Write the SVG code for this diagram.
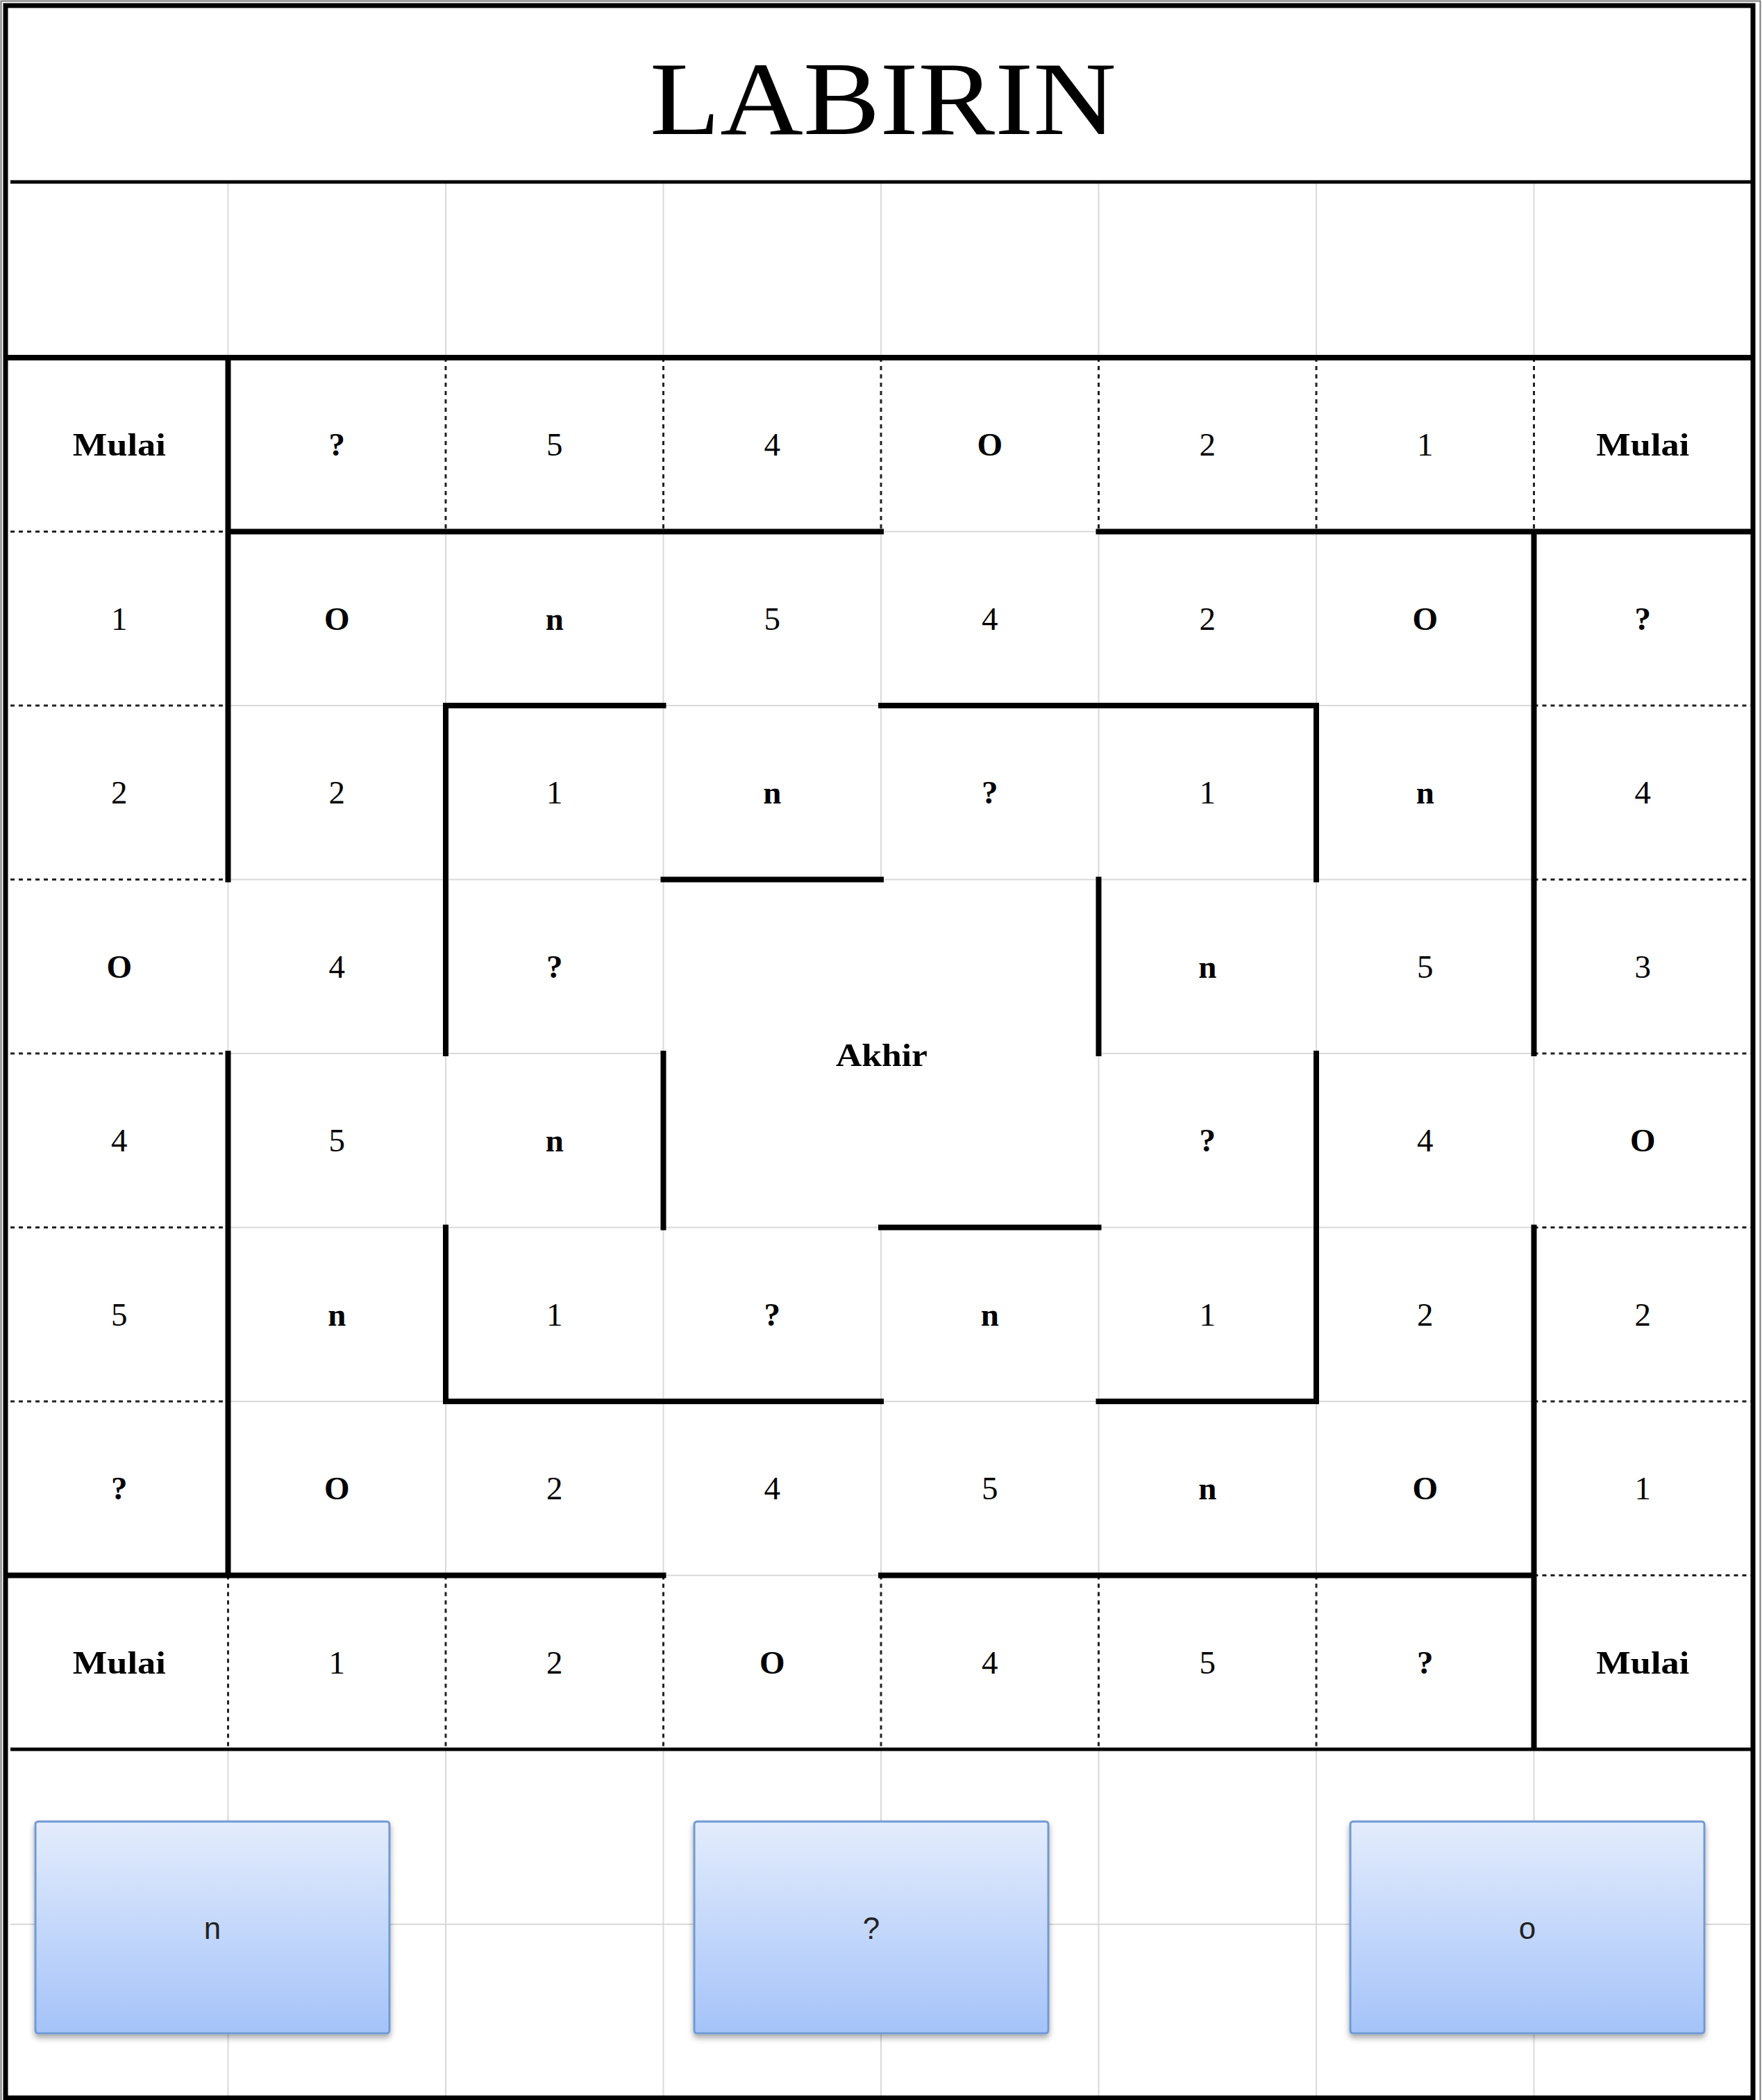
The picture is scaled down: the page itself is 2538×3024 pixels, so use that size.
<svg xmlns="http://www.w3.org/2000/svg" width="2538" height="3024" viewBox="0 0 2538 3024">
<defs>
<style>
.t{font-family:"Liberation Serif","Times New Roman",serif;font-size:47px;text-anchor:middle;fill:#000}
.b{font-weight:bold}
.grid{fill:none;stroke:#d9d9d9;stroke-width:2}
.under{fill:none;stroke:#fff;stroke-width:4}
.dot{fill:none;stroke:#222;stroke-width:3;stroke-dasharray:6 6}
.wall{fill:none;stroke:#000;stroke-width:8;stroke-linecap:square}
.rule{fill:none;stroke:#000;stroke-width:5}
.btn{fill:url(#bg);stroke:#7199d3;stroke-width:3;filter:url(#sh)}
.bl{font-family:"Liberation Sans",Arial,sans-serif;font-size:44px;text-anchor:middle;fill:#222}
</style>
<linearGradient id="bg" x1="0" y1="0" x2="0" y2="1">
<stop offset="0" stop-color="#e3ecfc"/>
<stop offset="1" stop-color="#a5c3f9"/>
</linearGradient>
<filter id="sh" x="-10%" y="-10%" width="120%" height="130%">
<feDropShadow dx="0" dy="5" stdDeviation="4" flood-color="#000" flood-opacity="0.35"/>
</filter>
</defs>
<rect x="0" y="0" width="2538" height="3024" fill="#fff"/>

<g id="gridlines">
<path class="grid" d="M328.5 262V515M642 262V515M955.5 262V515M1269 262V515M1582.5 262V515M1896 262V515M2209.5 262V515"/>
<path class="grid" d="M328.5 515V2519M642 515V2519M955.5 515V2519M1582.5 515V2519M1896 515V2519M2209.5 515V2519M1269 515V1266.5M1269 1767.5V2519"/>
<path class="grid" d="M15 765.5H2523M15 1016H2523M15 1266.5H2523M15 2018H2523M15 2268.5H2523M15 1767.5H2523M15 1517H955.5M1582.5 1517H2523"/>
<path class="grid" d="M328.5 2519V3018M642 2519V3018M955.5 2519V3018M1269 2519V3018M1582.5 2519V3018M1896 2519V3018M2209.5 2519V3018M15 2771H2523"/>
</g>

<g id="connectors">
<path class="under" d="M15 765.5H328.5M15 1016H328.5M15 1266.5H328.5M15 1517H328.5M15 1767.5H328.5M15 2018H328.5M2209.5 1016H2523M2209.5 1266.5H2523M2209.5 1517H2523M2209.5 1767.5H2523M2209.5 2018H2523M2209.5 2268.5H2523M642 515V765.5M955.5 515V765.5M1269 515V765.5M1582.5 515V765.5M1896 515V765.5M2209.5 515V765.5M328.5 2268.5V2519M642 2268.5V2519M955.5 2268.5V2519M1269 2268.5V2519M1582.5 2268.5V2519M1896 2268.5V2519"/>
<path class="dot" d="M15 765.5H328.5M15 1016H328.5M15 1266.5H328.5M15 1517H328.5M15 1767.5H328.5M15 2018H328.5M2209.5 1016H2523M2209.5 1266.5H2523M2209.5 1517H2523M2209.5 1767.5H2523M2209.5 2018H2523M2209.5 2268.5H2523M642 515V765.5M955.5 515V765.5M1269 515V765.5M1582.5 515V765.5M1896 515V765.5M2209.5 515V765.5M328.5 2268.5V2519M642 2268.5V2519M955.5 2268.5V2519M1269 2268.5V2519M1582.5 2268.5V2519M1896 2268.5V2519"/>
<path class="rule" d="M15 262H2523M15 2519H2523"/>
<path class="wall" d="M15 515H2520M328.5 515V1266.5M328.5 1517V2268.5M328.5 765.5H1269M1582.5 765.5H2520M2209.5 765.5V1517M2209.5 1767.5V2516M15 2268.5H955.5M1269 2268.5H2209.5M642 1016H955.5M1269 1016H1896M642 1016V1517M642 1767.5V2018M1896 1016V1266.5M1896 1517V2018M642 2018H1269M1582.5 2018H1896M955.5 1266.5H1269M1582.5 1266.5V1517M955.5 1517V1767.5M1269 1767.5H1582.5"/>
</g>

<g id="frame">
<rect x="1.5" y="1.5" width="2534" height="3034" fill="none" stroke="#777" stroke-width="2"/>
<rect x="8" y="8" width="2517" height="3013" fill="none" stroke="#000" stroke-width="7"/>
</g>

<g id="title"><text x="1272" y="193" font-family="Liberation Serif, Times New Roman, serif" font-size="150" text-anchor="middle" textLength="672" lengthAdjust="spacingAndGlyphs">LABIRIN</text></g>

<g id="row1">
<g id="c1-0"><text class="t b" x="171.75" y="656" textLength="134" lengthAdjust="spacingAndGlyphs">Mulai</text></g>
<g id="c1-1"><text class="t b" x="485.25" y="656">?</text></g>
<g id="c1-2"><text class="t" x="798.75" y="656">5</text></g>
<g id="c1-3"><text class="t" x="1112.25" y="656">4</text></g>
<g id="c1-4"><text class="t b" x="1425.75" y="656">O</text></g>
<g id="c1-5"><text class="t" x="1739.25" y="656">2</text></g>
<g id="c1-6"><text class="t" x="2052.75" y="656">1</text></g>
<g id="c1-7"><text class="t b" x="2366.25" y="656" textLength="134" lengthAdjust="spacingAndGlyphs">Mulai</text></g>
</g>
<g id="row2">
<g id="c2-0"><text class="t" x="171.75" y="906.5">1</text></g>
<g id="c2-1"><text class="t b" x="485.25" y="906.5">O</text></g>
<g id="c2-2"><text class="t b" x="798.75" y="906.5">n</text></g>
<g id="c2-3"><text class="t" x="1112.25" y="906.5">5</text></g>
<g id="c2-4"><text class="t" x="1425.75" y="906.5">4</text></g>
<g id="c2-5"><text class="t" x="1739.25" y="906.5">2</text></g>
<g id="c2-6"><text class="t b" x="2052.75" y="906.5">O</text></g>
<g id="c2-7"><text class="t b" x="2366.25" y="906.5">?</text></g>
</g>
<g id="row3">
<g id="c3-0"><text class="t" x="171.75" y="1157">2</text></g>
<g id="c3-1"><text class="t" x="485.25" y="1157">2</text></g>
<g id="c3-2"><text class="t" x="798.75" y="1157">1</text></g>
<g id="c3-3"><text class="t b" x="1112.25" y="1157">n</text></g>
<g id="c3-4"><text class="t b" x="1425.75" y="1157">?</text></g>
<g id="c3-5"><text class="t" x="1739.25" y="1157">1</text></g>
<g id="c3-6"><text class="t b" x="2052.75" y="1157">n</text></g>
<g id="c3-7"><text class="t" x="2366.25" y="1157">4</text></g>
</g>
<g id="row4">
<g id="c4-0"><text class="t b" x="171.75" y="1408">O</text></g>
<g id="c4-1"><text class="t" x="485.25" y="1408">4</text></g>
<g id="c4-2"><text class="t b" x="798.75" y="1408">?</text></g>
<g id="c4-5"><text class="t b" x="1739.25" y="1408">n</text></g>
<g id="c4-6"><text class="t" x="2052.75" y="1408">5</text></g>
<g id="c4-7"><text class="t" x="2366.25" y="1408">3</text></g>
</g>
<g id="akhir"><text class="t b" x="1270" y="1535" textLength="132" lengthAdjust="spacingAndGlyphs">Akhir</text></g>
<g id="row5">
<g id="c5-0"><text class="t" x="171.75" y="1658">4</text></g>
<g id="c5-1"><text class="t" x="485.25" y="1658">5</text></g>
<g id="c5-2"><text class="t b" x="798.75" y="1658">n</text></g>
<g id="c5-5"><text class="t b" x="1739.25" y="1658">?</text></g>
<g id="c5-6"><text class="t" x="2052.75" y="1658">4</text></g>
<g id="c5-7"><text class="t b" x="2366.25" y="1658">O</text></g>
</g>
<g id="row6">
<g id="c6-0"><text class="t" x="171.75" y="1909">5</text></g>
<g id="c6-1"><text class="t b" x="485.25" y="1909">n</text></g>
<g id="c6-2"><text class="t" x="798.75" y="1909">1</text></g>
<g id="c6-3"><text class="t b" x="1112.25" y="1909">?</text></g>
<g id="c6-4"><text class="t b" x="1425.75" y="1909">n</text></g>
<g id="c6-5"><text class="t" x="1739.25" y="1909">1</text></g>
<g id="c6-6"><text class="t" x="2052.75" y="1909">2</text></g>
<g id="c6-7"><text class="t" x="2366.25" y="1909">2</text></g>
</g>
<g id="row7">
<g id="c7-0"><text class="t b" x="171.75" y="2159">?</text></g>
<g id="c7-1"><text class="t b" x="485.25" y="2159">O</text></g>
<g id="c7-2"><text class="t" x="798.75" y="2159">2</text></g>
<g id="c7-3"><text class="t" x="1112.25" y="2159">4</text></g>
<g id="c7-4"><text class="t" x="1425.75" y="2159">5</text></g>
<g id="c7-5"><text class="t b" x="1739.25" y="2159">n</text></g>
<g id="c7-6"><text class="t b" x="2052.75" y="2159">O</text></g>
<g id="c7-7"><text class="t" x="2366.25" y="2159">1</text></g>
</g>
<g id="row8">
<g id="c8-0"><text class="t b" x="171.75" y="2410" textLength="134" lengthAdjust="spacingAndGlyphs">Mulai</text></g>
<g id="c8-1"><text class="t" x="485.25" y="2410">1</text></g>
<g id="c8-2"><text class="t" x="798.75" y="2410">2</text></g>
<g id="c8-3"><text class="t b" x="1112.25" y="2410">O</text></g>
<g id="c8-4"><text class="t" x="1425.75" y="2410">4</text></g>
<g id="c8-5"><text class="t" x="1739.25" y="2410">5</text></g>
<g id="c8-6"><text class="t b" x="2052.75" y="2410">?</text></g>
<g id="c8-7"><text class="t b" x="2366.25" y="2410" textLength="134" lengthAdjust="spacingAndGlyphs">Mulai</text></g>
</g>

<g id="btn-n"><rect class="btn" x="51" y="2623" width="510" height="305" rx="4"/><text class="bl" x="306" y="2792">n</text></g>
<g id="btn-q"><rect class="btn" x="1000" y="2623" width="510" height="305" rx="4"/><text class="bl" x="1255" y="2792">?</text></g>
<g id="btn-o"><rect class="btn" x="1945" y="2623" width="510" height="305" rx="4"/><text class="bl" x="2200" y="2792">o</text></g>
</svg>
